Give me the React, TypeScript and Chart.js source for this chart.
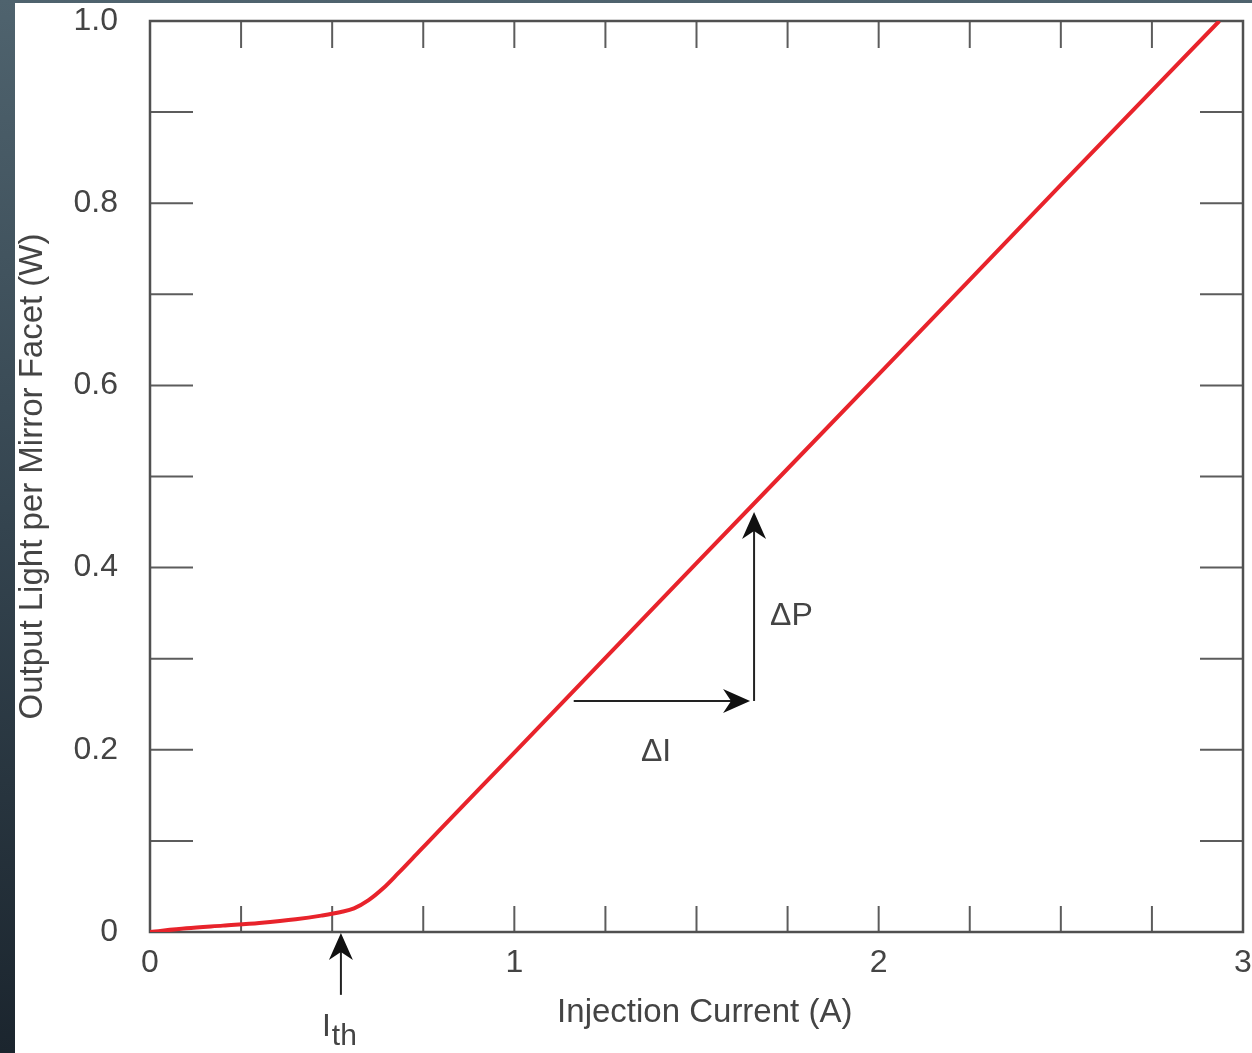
import React, { useEffect, useRef } from 'react';
import { Chart, registerables } from 'chart.js';

Chart.register(...registerables);

// Curve: injection current (A) vs output light per mirror facet (W)
const currentA = [0, 0.1, 0.2, 0.3, 0.4, 0.47, 0.524, 0.56, 0.6, 0.64, 0.68, 0.74, 0.8, 1.0, 1.5, 2.0, 2.5, 2.935];
const outputW = [0, 0.004, 0.007, 0.01, 0.014, 0.018, 0.022, 0.026, 0.035, 0.048, 0.064, 0.089, 0.114, 0.197, 0.405, 0.612, 0.82, 1.0];

// Axis ranges / ticks
const xRange = [0, 3];
const xStep = 0.25;
const yRange = [0, 1];
const yStep = 0.1;

// Annotation anchors in data coordinates
const thresholdCurrent = 0.524;
const ithArrowY = [-0.069, -0.001];
const ithLabel = { x: 0.472, y: -0.104 };
const deltaI = { x: [1.163, 1.647], y: 0.2536 };
const deltaP = { x: 1.658, y: [0.2536, 0.461] };
const deltaILabel = { x: 1.389, y: 0.1976, text: 'ΔI' };
const deltaPLabel = { x: 1.702, y: 0.347, text: 'ΔP' };

const FONT = '"Liberation Sans", Arial, Helvetica, sans-serif';
const TEXT = '#444';

function isMultiple(v: number, step: number) {
  const r = v / step;
  return Math.abs(r - Math.round(r)) < 1e-6;
}

function drawArrow(ctx: CanvasRenderingContext2D, x1: number, y1: number, x2: number, y2: number) {
  const ang = Math.atan2(y2 - y1, x2 - x1);
  const len = 27, half = 12, notch = 8;
  ctx.beginPath();
  ctx.moveTo(x1, y1);
  ctx.lineTo(x2 - Math.cos(ang) * notch, y2 - Math.sin(ang) * notch);
  ctx.stroke();
  const bx = x2 - Math.cos(ang) * len, by = y2 - Math.sin(ang) * len;
  const nx = -Math.sin(ang), ny = Math.cos(ang);
  ctx.beginPath();
  ctx.moveTo(x2, y2);
  ctx.lineTo(bx + nx * half, by + ny * half);
  ctx.lineTo(x2 - Math.cos(ang) * (len - notch), y2 - Math.sin(ang) * (len - notch));
  ctx.lineTo(bx - nx * half, by - ny * half);
  ctx.closePath();
  ctx.fill();
}

const framePlugin = {
  id: 'frameTicks',
  beforeDatasetsDraw(chart: any) {
    const { ctx, chartArea: a, scales } = chart;
    const x = scales.x, y = scales.y;
    ctx.save();
    ctx.strokeStyle = '#5c5c5c';
    ctx.lineWidth = 2;
    const line = (x1: number, y1: number, x2: number, y2: number) => {
      ctx.beginPath(); ctx.moveTo(x1, y1); ctx.lineTo(x2, y2); ctx.stroke();
    };
    y.ticks.forEach((t: any) => {
      const p = y.getPixelForValue(t.value);
      line(a.left, p, a.left + 43, p);
      line(a.right - 43, p, a.right, p);
    });
    x.ticks.forEach((t: any) => {
      const p = x.getPixelForValue(t.value);
      line(p, a.bottom, p, a.bottom - 26);
      line(p, a.top, p, a.top + 27);
    });
    ctx.lineWidth = 2.5;
    ctx.strokeStyle = '#505050';
    ctx.strokeRect(a.left, a.top, a.right - a.left, a.bottom - a.top);
    ctx.restore();
  },
};

const annotationPlugin = {
  id: 'annotations',
  afterDatasetsDraw(chart: any) {
    const { ctx, scales } = chart;
    const x = scales.x, y = scales.y;
    ctx.save();
    ctx.strokeStyle = '#222';
    ctx.fillStyle = '#111';
    ctx.lineWidth = 2;
    // I_th arrow
    const ix = x.getPixelForValue(thresholdCurrent);
    drawArrow(ctx, ix, y.getPixelForValue(ithArrowY[0]), ix, y.getPixelForValue(ithArrowY[1]));
    // ΔI arrow
    const dy = y.getPixelForValue(deltaI.y);
    drawArrow(ctx, x.getPixelForValue(deltaI.x[0]), dy, x.getPixelForValue(deltaI.x[1]), dy);
    // ΔP arrow
    const px = x.getPixelForValue(deltaP.x);
    drawArrow(ctx, px, y.getPixelForValue(deltaP.y[0]), px, y.getPixelForValue(deltaP.y[1]));
    // labels
    ctx.fillStyle = TEXT;
    ctx.textBaseline = 'middle';
    ctx.font = `32px ${FONT}`;
    ctx.textAlign = 'center';
    ctx.fillText(deltaILabel.text, x.getPixelForValue(deltaILabel.x), y.getPixelForValue(deltaILabel.y));
    ctx.textAlign = 'left';
    ctx.fillText(deltaPLabel.text, x.getPixelForValue(deltaPLabel.x), y.getPixelForValue(deltaPLabel.y));
    const lx = x.getPixelForValue(ithLabel.x), ly = y.getPixelForValue(ithLabel.y);
    ctx.fillText('I', lx, ly);
    const w = ctx.measureText('I').width;
    ctx.font = `30px ${FONT}`;
    ctx.fillText('th', lx + w + 1, ly + 10);
    ctx.restore();
  },
};

export default function App() {
  const ref = useRef<HTMLCanvasElement | null>(null);
  useEffect(() => {
    if (!ref.current) return;
    const chart = new Chart(ref.current, {
      type: 'line',
      data: {
        datasets: [
          {
            label: 'Output light',
            data: currentA.map((c, i) => ({ x: c, y: outputW[i] })),
            borderColor: '#e8232b',
            borderWidth: 4,
            pointRadius: 0,
            fill: false,
            cubicInterpolationMode: 'monotone',
          },
        ],
      },
      options: {
        animation: false,
        responsive: false,
        devicePixelRatio: 1,
        layout: { padding: { left: 0, top: 21, right: 9, bottom: 0 } },
        plugins: { legend: { display: false }, tooltip: { enabled: false } },
        scales: {
          x: {
            type: 'linear',
            min: xRange[0],
            max: xRange[1],
            grid: { display: false, drawTicks: false, tickLength: 0 },
            border: { display: false },
            ticks: {
              stepSize: xStep,
              autoSkip: false,
              maxRotation: 0,
              padding: 12,
              color: TEXT,
              font: { size: 32, family: FONT },
              callback: (v: any) => (isMultiple(Number(v), 1) ? String(Math.round(Number(v))) : ''),
            },
            title: {
              display: true,
              text: '\u2002Injection Current (A)',
              color: TEXT,
              font: { size: 33, family: FONT },
              padding: { top: 0, bottom: 20 },
            },
            afterFit: (s: any) => {
              s.height = 121;
              s.paddingLeft = 0;
              s.paddingRight = 0;
            },
          },
          y: {
            type: 'linear',
            min: yRange[0],
            max: yRange[1],
            grid: { display: false, drawTicks: false, tickLength: 0 },
            border: { display: false },
            ticks: {
              stepSize: yStep,
              autoSkip: false,
              padding: 32,
              color: TEXT,
              font: { size: 32, family: FONT },
              callback: (v: any) => {
                const n = Number(v);
                if (!isMultiple(n, 0.2)) return '';
                return Math.abs(n) < 1e-9 ? '0' : n.toFixed(1);
              },
            },
            title: {
              display: true,
              text: 'Output Light per Mirror Facet (W)',
              color: TEXT,
              font: { size: 33, family: FONT },
              padding: { top: 13, bottom: 0 },
            },
            afterFit: (s: any) => {
              s.width = 150;
              s.paddingTop = 0;
              s.paddingBottom = 0;
            },
          },
        },
      },
      plugins: [framePlugin, annotationPlugin],
    } as any);
    return () => chart.destroy();
  }, []);

  return (
    <div
      style={{
        position: 'absolute',
        left: 0,
        top: 0,
        width: 1252,
        height: 1053,
        overflow: 'hidden',
        background: 'linear-gradient(to bottom, #4f636e 0%, #34444f 50%, #1b252e 100%)',
      }}
    >
      <div style={{ position: 'absolute', left: 15, top: 3, right: 0, bottom: 0, background: '#ffffff' }} />
      <canvas ref={ref} width={1252} height={1053} style={{ position: 'absolute', left: 0, top: 0, width: 1252, height: 1053 }} />
    </div>
  );
}
